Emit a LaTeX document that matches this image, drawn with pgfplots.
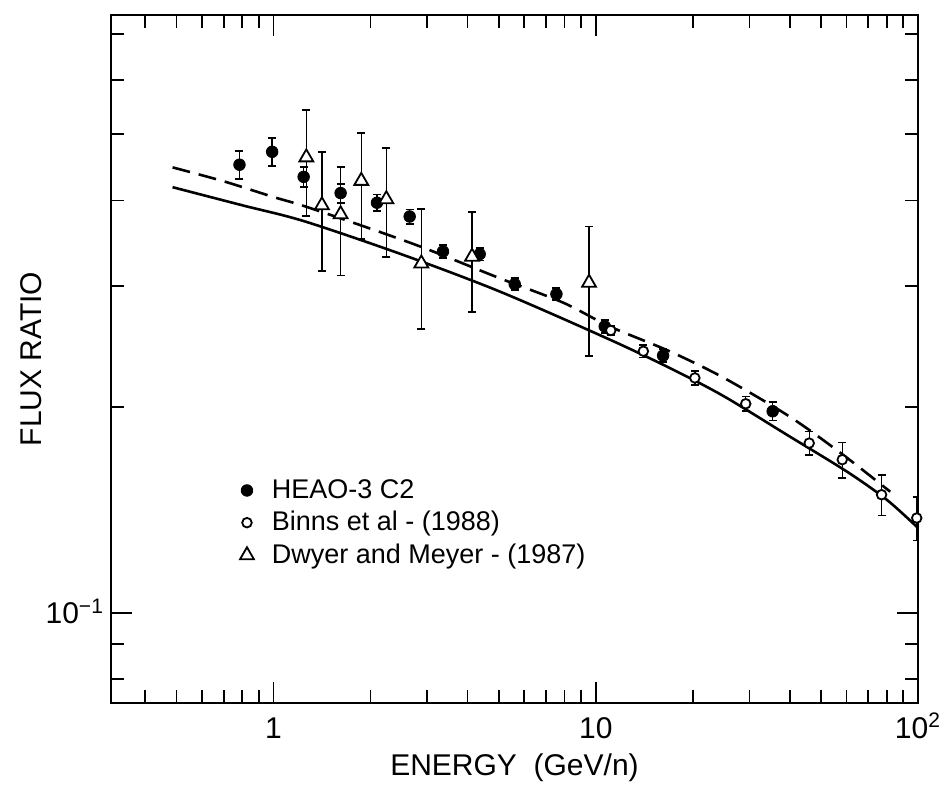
\documentclass[border=0pt]{standalone}
\usepackage{fontspec}
\setmainfont{Liberation Sans}
\usepackage{pgfplots}
\usepackage{pgfplotstable}
\pgfplotsset{compat=1.18}

\pgfplotstableread{
x y e
0.784 0.451 0.021
0.99 0.471 0.022
1.24 0.433 0.015
1.615 0.410 0.013
2.094 0.397 0.011
2.645 0.379 0.009
3.357 0.337 0.007
4.363 0.334 0.007
5.603 0.302 0.006
7.55 0.292 0.006
10.66 0.262 0.006
16.18 0.2375 0.005
35.4 0.197 0.006
}\heao

\pgfplotstableread{
x y e
11.13 0.2584 0.004
14.05 0.2410 0.005
20.3 0.2203 0.005
29.2 0.2020 0.005
45.96 0.1770 0.007
58.2 0.1674 0.010
77.1 0.1488 0.010
99.1 0.1376 0.010
}\binns

\pgfplotstableread{
x y ep em
1.264 0.4623 0.080 0.083
1.413 0.3936 0.077 0.078
1.615 0.3819 0.066 0.071
1.872 0.4272 0.074 0.076
2.239 0.4017 0.075 0.071
2.875 0.3237 0.065 0.064
4.13 0.3311 0.054 0.056
9.53 0.3034 0.063 0.066
}\dwyer

\pgfplotstableread{
x y
0.486 0.447
0.7 0.4266
1.0 0.4046
1.248 0.3924
2.0 0.3638
3.0 0.3396
5.03 0.308
7.9 0.2839
11.05 0.2619
17 0.2408
25 0.2203
40 0.1934
58.5 0.1702
82 0.1503
}\dashedcurve

\pgfplotstableread{
x y
0.486 0.4182
0.8 0.3936
1.248 0.3729
2.5 0.3337
5.03 0.2946
11.05 0.2506
17.35 0.2266
25 0.2071
39.2 0.1820
60.2 0.1608
80 0.1463
100 0.1331
}\solidcurve

\begin{document}
\begin{tikzpicture}
\begin{axis}[
  scale only axis,
  width=403.5pt, height=344pt,
  xmode=log, ymode=log,
  xmin=0.313, xmax=100, ymin=0.0739, ymax=0.746,
  axis line style={line width=1.2pt},
  tick align=inside,
  major tick length=10.5pt, minor tick length=6.5pt,
  every tick/.append style={black, line width=0.9pt},
  xtick={1,10,100}, xticklabels={1,10,10\textsuperscript{2}},
  minor xtick={0.4,0.5,0.6,0.7,0.8,0.9,2,3,4,5,6,7,8,9,20,30,40,50,60,70,80,90},
  ytick={0.1}, yticklabels={10\textsuperscript{−1}},
  minor ytick={0.08,0.09,0.2,0.3,0.4,0.5,0.6,0.7},
  xticklabel style={font=\fontsize{15}{18}\selectfont, anchor=base, yshift=-17.5pt},
  yticklabel style={font=\fontsize{15}{18}\selectfont, anchor=base east, yshift=-5.5pt},
  xlabel={ENERGY\ \ (GeV/n)}, ylabel={FLUX RATIO},
  xlabel style={font=\fontsize{15}{18}\selectfont, at={(axis description cs:0.5,-0.0945)}, anchor=center},
  ylabel style={font=\fontsize{15}{18}\selectfont, at={(axis description cs:-0.0991,0.5)}, anchor=center},
  legend style={draw=none, fill=none, at={(axis description cs:0.152,0.337)}, anchor=north west,
    font=\fontsize{13.5}{15}\selectfont, row sep=1pt, column sep=7pt},
  legend cell align=left,
  error bars/error bar style={line width=0.7pt, black},
  error bars/error mark options={rotate=90, line width=0.9pt, mark size=2pt, black},
]
\addplot[black, line width=1.3pt, smooth, dash pattern=on 9pt off 4.5pt, forget plot] table {\dashedcurve};
\addplot[black, line width=1.3pt, smooth, forget plot] table {\solidcurve};

\addplot[only marks, mark=*, mark size=2.9pt, mark options={fill=black, draw=black},
  error bars/.cd, y dir=both, y explicit]
  table[x=x, y=y, y error=e] {\heao};
\addlegendentry{HEAO-3 C2}

\addplot[only marks, mark=*, mark size=2.4pt, mark options={fill=white, draw=black, line width=0.9pt},
  error bars/.cd, y dir=both, y explicit]
  table[x=x, y=y, y error=e] {\binns};
\addlegendentry{Binns et al - (1988)}

\addplot[only marks, mark=triangle*, mark size=4pt, mark options={fill=white, draw=black, line width=0.9pt},
  error bars/.cd, y dir=both, y explicit]
  table[x=x, y=y, y error plus=ep, y error minus=em] {\dwyer};
\addlegendentry{Dwyer and Meyer - (1987)}
\end{axis}
\pgfresetboundingbox
\path[use as bounding box] (-55.5pt,-46pt) rectangle (420pt,351.5pt);
\end{tikzpicture}
\end{document}
